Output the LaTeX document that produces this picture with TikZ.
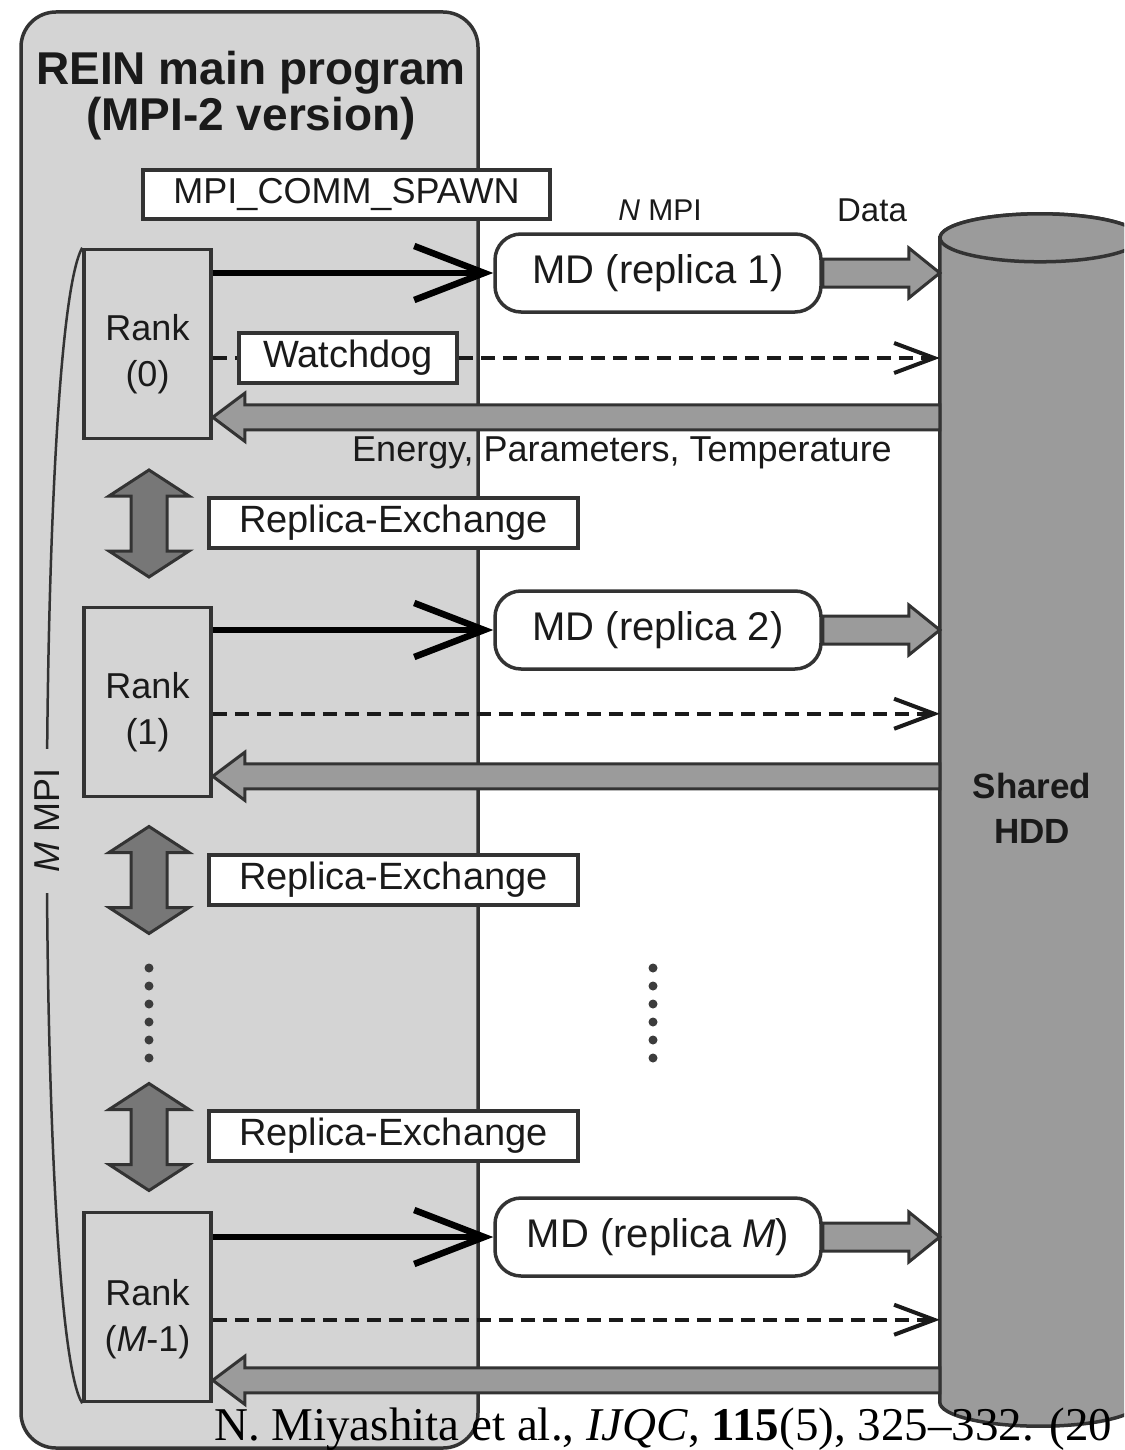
\documentclass[tikz,border=0pt]{standalone}
\usepackage{fontspec}
\setmainfont{Liberation Sans}
\newfontfamily\citefont{Liberation Serif}
\usetikzlibrary{arrows.meta,calc}
\definecolor{bgray}{HTML}{D4D4D4}
\definecolor{mgray}{HTML}{9B9B9B}
\definecolor{dgray}{HTML}{777777}
\definecolor{edge}{HTML}{333333}
\definecolor{ink}{HTML}{1A1A1A}
\newcommand{\datablock}[2]{\draw[grayblock] let \p1=(#1), \p2=(#2) in (\x1,\y1+14pt) -- (\x2-31pt,\y1+14pt) -- (\x2-31pt,\y1+25pt) -- (\x2,\y1) -- (\x2-31pt,\y1-25pt) -- (\x2-31pt,\y1-14pt) -- (\x1,\y1-14pt) -- cycle;}
\newcommand{\backblock}[2]{\draw[grayblock] let \p1=(#1), \p2=(#2) in (\x1,\y1+12.5pt) -- (\x2+32pt,\y1+12.5pt) -- (\x2+32pt,\y1+24pt) -- (\x2,\y1) -- (\x2+32pt,\y1-24pt) -- (\x2+32pt,\y1-12.5pt) -- (\x1,\y1-12.5pt) -- cycle;}
\newcommand{\swapblock}[1]{\draw[darkblock] let \p1=(#1) in (\x1,\y1+53.5pt) -- (\x1+40pt,\y1+27.5pt) -- (\x1+18pt,\y1+27.5pt) -- (\x1+18pt,\y1-27.5pt) -- (\x1+40pt,\y1-27.5pt) -- (\x1,\y1-53.5pt) -- (\x1-40pt,\y1-27.5pt) -- (\x1-18pt,\y1-27.5pt) -- (\x1-18pt,\y1+27.5pt) -- (\x1-40pt,\y1+27.5pt) -- cycle;}
\begin{document}
\begin{tikzpicture}[x=1pt,y=-1pt,
  lbl/.style={font=\fontsize{36}{46}\selectfont, text=ink, inner sep=0pt},
  whitebox/.style={lbl, draw=edge, line width=3.5pt, fill=white},
  rankbox/.style={draw=edge, line width=3.5pt, fill=bgray, minimum width=127pt, minimum height=189pt, inner sep=0pt},
  mdbox/.style={whitebox, font=\fontsize{40}{46}\selectfont, rounded corners=26pt, minimum width=326pt, minimum height=78pt},
  rebox/.style={whitebox, font=\fontsize{38}{46}\selectfont, minimum width=369pt, minimum height=50pt},
  spawnarrow/.style={line width=6.5pt, black, -{Straight Barb[length=70pt, width=54pt]}},
  dashline/.style={line width=4pt, ink, dash pattern=on 14pt off 8pt},
  dasharrow/.style={dashline, -{Straight Barb[length=40pt, width=30pt]}},
  grayblock/.style={draw=edge, line width=3pt, fill=mgray, line join=miter},
  darkblock/.style={draw=edge, line width=3pt, fill=dgray, line join=miter},
  dotmark/.style={circle, fill=ink!85, inner sep=0pt, minimum size=9pt}
]
\useasboundingbox (0,0) rectangle (1124,1450);
\clip (0,0) rectangle (1124,1450);
\fill[white] (0,0) rectangle (1124,1450);

% main program container
\node[draw=edge, line width=3.5pt, fill=bgray, rounded corners=35pt, minimum width=457pt, minimum height=1436pt, inner sep=0pt] (main) at (249.5,730) {};
\node[font=\bfseries\fontsize{46}{46}\selectfont, text=ink, align=center, inner sep=0pt] (title) at (251,96) {REIN main program\\(MPI-2 version)};

% rank boxes
\node[rankbox] (R0) at (147.5,344) {};
\node[rankbox] (R1) at (147.5,702) {};
\node[rankbox] (RM) at (147.5,1307) {};
\node[lbl, align=center] (R0t) at (147.5,354) {Rank\\(0)};
\node[lbl, align=center] (R1t) at (147.5,712) {Rank\\(1)};
\node[lbl, align=center] (RMt) at (147.5,1319) {Rank\\(\textit{M}-1)};

% M MPI bracket
\draw[edge, line width=2.5pt] (R0.north west) .. controls (35,330) and (35,1330) .. (RM.south west)
  node[pos=0.495, rotate=90, fill=bgray, font=\fontsize{36}{40}\selectfont, text=ink, inner xsep=20pt, inner ysep=2pt] (mmpi) {\textit{M} MPI};

% shared HDD cylinder
\node[inner sep=0pt, minimum width=200pt, minimum height=1164pt] (hdd) at (1040,820) {};
\draw[draw=edge, line width=3.5pt, fill=mgray] (hdd.north west) -- (hdd.south west)
  arc[start angle=180, end angle=360, x radius=100pt, y radius=24pt] -- (hdd.north east)
  arc[start angle=0, end angle=180, x radius=100pt, y radius=24pt] -- cycle;
\draw[draw=edge, line width=3.5pt, fill=mgray] (hdd.north) ellipse[x radius=100pt, y radius=24pt];
\node[font=\bfseries\fontsize{35}{45}\selectfont, text=ink, align=center, inner sep=0pt] (hddt) at (1032,808) {Shared\\HDD};

% spawn box and replica-exchange boxes
\node[whitebox, minimum width=407pt, minimum height=49pt] (spawn) at (346.5,194.5) {MPI\_COMM\_SPAWN};
\node[rebox] (RE1) at (393.5,523) {Replica-Exchange};
\node[rebox] (RE2) at (393.5,880) {Replica-Exchange};
\node[rebox] (RE3) at (393.5,1136) {Replica-Exchange};
\coordinate (X1) at (149,523.5);
\coordinate (X2) at (149,880);
\coordinate (X3) at (149,1137);
\swapblock{X1}
\swapblock{X2}
\swapblock{X3}

% MD boxes
\node[mdbox] (MD1) at (658,273) {MD (replica 1)};
\node[mdbox] (MD2) at (658,630) {MD (replica 2)};
\node[mdbox] (MDM) at (658,1237) {MD (replica \textit{M})};

% spawn arrows
\draw[spawnarrow] (R0.east |- MD1.west) -- (MD1.west);
\draw[spawnarrow] (R1.east |- MD2.west) -- (MD2.west);
\draw[spawnarrow] (RM.east |- MDM.west) -- (MDM.west);

% watchdog (dashed) lines
\node[whitebox, font=\fontsize{38}{46}\selectfont, minimum width=218pt, minimum height=50pt] (WD) at (348,358) {Watchdog};
\draw[dashline] (R0.east |- WD.west) -- (WD.west);
\draw[dasharrow] (WD.east) -- (WD.east -| hdd.west);
\coordinate (d1) at ($(R1.north east)+(0,108)$);
\coordinate (dM) at ($(RM.north east)+(0,109)$);
\draw[dasharrow] (d1) -- (d1 -| hdd.west);
\draw[dasharrow] (dM) -- (dM -| hdd.west);

% data arrows to HDD
\datablock{MD1.east}{MD1.east -| hdd.west}
\datablock{MD2.east}{MD2.east -| hdd.west}
\datablock{MDM.east}{MDM.east -| hdd.west}

% returns from HDD
\coordinate (g0) at ($(R0.south east)+(0,-23)$);
\coordinate (g1) at ($(R1.south east)+(0,-22)$);
\coordinate (gM) at ($(RM.south east)+(0,-23)$);
\backblock{g0 -| hdd.west}{g0}
\backblock{g1 -| hdd.west}{g1}
\backblock{gM -| hdd.west}{gM}

% labels
\node[lbl, font=\fontsize{30}{36}\selectfont] (nmpi) at (660,210) {\textit{N} MPI};
\node[lbl, font=\fontsize{33}{36}\selectfont] (data) at (872,210) {Data};
\node[lbl] (ept) at (622,453) {Energy, Parameters, Temperature};

% ellipsis dots
\foreach \i in {0,...,5} {
  \node[dotmark] (dl\i) at (149,968+18*\i) {};
  \node[dotmark] (dr\i) at (653,968+18*\i) {};
}

% citation
\node[anchor=base west, inner sep=0pt, text=black, font=\citefont\fontsize{47}{50}\selectfont] (cite) at (214,1440) {N. Miyashita et al., \textit{IJQC}, \textbf{115}(5), 325\textendash 332. (20};
\end{tikzpicture}
\end{document}
